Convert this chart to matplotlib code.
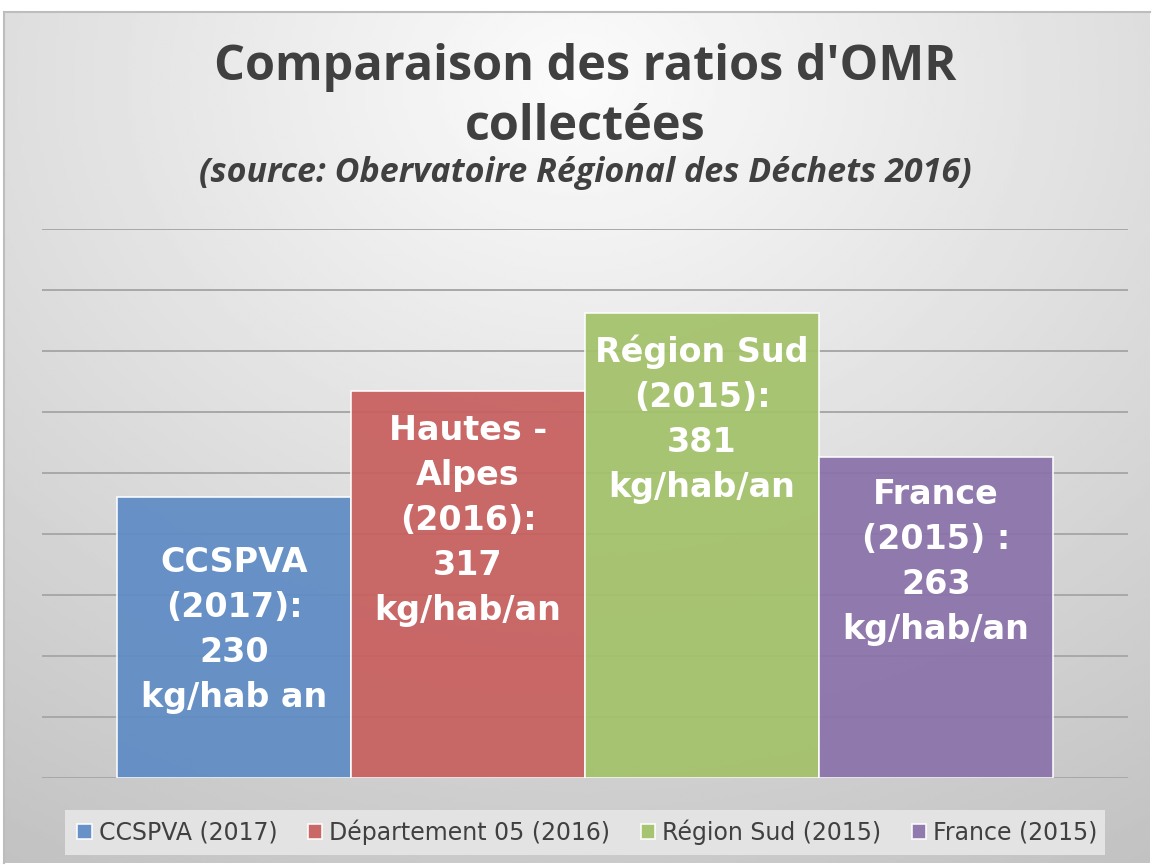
import numpy as np
import matplotlib.pyplot as plt
from matplotlib.patches import Rectangle

# données du graphique
series = ['CCSPVA (2017)', 'Département 05 (2016)', 'Région Sud (2015)', 'France (2015)']
values = [230, 317, 381, 263]
bar_labels = ['CCSPVA\n(2017):\n230\nkg/hab an',
              'Hautes -\nAlpes\n(2016):\n317\nkg/hab/an',
              'Région Sud\n(2015):\n381\nkg/hab/an',
              'France\n(2015) :\n263\nkg/hab/an']
label_y = [121, 211, 294, 177]
colors = ['#5f8cc5', '#c75f5e', '#a3c26a', '#8a72aa']

fig = plt.figure(figsize=(11.52, 8.65), dpi=100)

# fond dégradé du cadre
bg = fig.add_axes([4 / 1152, 2 / 865, 1146 / 1152, 851 / 865])
gx, gy = np.meshgrid(np.linspace(0, 1, 300), np.linspace(0, 1, 300))
d = np.sqrt(((gx - 0.5) * 1.1) ** 2 + (gy - 0.08) ** 2)
shade = np.clip(0.985 - 0.21 * d, 0.76, 1)
bg.imshow(shade, cmap='gray', vmin=0, vmax=1, aspect='auto',
          extent=[0, 1, 1, 0], interpolation='bilinear')
bg.set_xlim(0, 1)
bg.set_ylim(1, 0)
for s in ['right', 'bottom']:
    bg.spines[s].set_visible(False)
for s in ['top', 'left']:
    bg.spines[s].set_color('#bdbdbd')
    bg.spines[s].set_linewidth(1.5)
bg.set_xticks([])
bg.set_yticks([])

ax = fig.add_axes([42 / 1152, 1 - 778 / 865, 1086 / 1152, 549 / 865])
ax.patch.set_alpha(0)
ax.set_ylim(0, 450)
ax.set_xlim(-0.5, 0.5)
ax.set_yticks(np.arange(0, 451, 50))
ax.yaxis.grid(True, color='#a8a8a8', linewidth=1.4)
ax.set_axisbelow(True)
ax.tick_params(left=False, bottom=False, labelleft=False, labelbottom=False)
for s in ax.spines.values():
    s.set_visible(False)

w = 0.2155
handles = []
for i, (name, v, c) in enumerate(zip(series, values, colors)):
    x = (i - 1.5) * w
    b = ax.bar(x, v, width=w, color=c, edgecolor='white', linewidth=1.2,
               alpha=0.93, label=name)
    handles.append(b)
    ax.text(x, label_y[i], bar_labels[i], ha='center', va='center',
            color='white', fontsize=24, fontweight='bold',
            family='DejaVu Sans', linespacing=1.46)

fig.text(0.508, 1 - 68 / 865, "Comparaison des ratios d'OMR", ha='center',
         va='center', fontsize=35, fontweight='bold', color='#404040',
         family='Open Sans')
fig.text(0.508, 1 - 127 / 865, 'collectées', ha='center', va='center',
         fontsize=35, fontweight='bold', color='#404040', family='Open Sans')
fig.text(0.508, 1 - 173 / 865, '(source: Obervatoire Régional des Déchets 2016)',
         ha='center', va='center', fontsize=24.5, fontweight='bold',
         style='italic', color='#404040', family='Open Sans')

# cadre de la légende
fig.patches.append(Rectangle((65 / 1152, 1 - 855 / 865), 1040 / 1152, 45 / 865,
                             transform=fig.transFigure, facecolor='#e3e3e3',
                             edgecolor='none', zorder=1))
fig.legend(handles=handles, loc='center', bbox_to_anchor=(0.51, 1 - 832 / 865),
           ncol=4, frameon=False, handlelength=0.6,
           handleheight=0.6, handletextpad=0.3, columnspacing=1.3,
           labelcolor='#404040', prop={'family': 'Liberation Sans Narrow', 'size': 17})

fig.savefig('out.png', dpi=100, facecolor='white')
